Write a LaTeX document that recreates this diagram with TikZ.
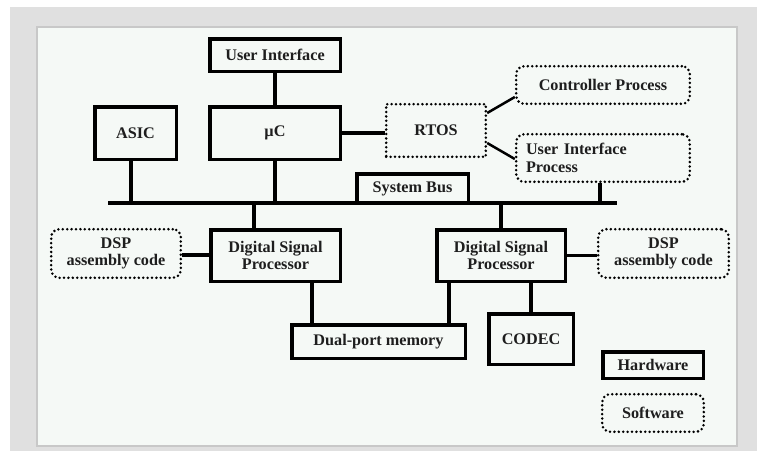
\documentclass[tikz,border=0pt]{standalone}
\usepackage{fontspec}
\setmainfont{Liberation Serif}
\definecolor{bggray}{RGB}{224,224,224}
\definecolor{panel}{RGB}{245,249,246}
\definecolor{panelline}{RGB}{200,200,200}
\definecolor{ink}{RGB}{30,30,30}
\begin{document}
\begin{tikzpicture}[x=1pt,y=-1pt,
  lbl/.style={inner sep=0pt,align=center,text=ink,font=\bfseries\fontsize{16.2}{17.5}\selectfont},
  hw/.style={lbl,draw=black,line width=3.5pt,fill=panel},
  sw/.style={lbl,draw=black,line width=2.8pt,dash pattern=on 0pt off 4.4pt,line cap=round,fill=panel},
  swr/.style={sw,rounded corners=8pt},
  conn/.style={draw=black,line width=3.5pt}]
\useasboundingbox (0,0) rectangle (757,451);
% background
\fill[white] (0,0) rectangle (757,451);
\fill[bggray] (10,7) rectangle (757,451);
\filldraw[fill=panel,draw=panelline,line width=1.5pt] (37,27) rectangle (737,446);
% hardware nodes
\node[hw,minimum width=130.5pt,minimum height=32.5pt] (ui) at (275,55) {User Interface};
\node[hw,minimum width=81.5pt,minimum height=52.5pt] (asic) at (135.5,133) {ASIC};
\node[hw,minimum width=130.5pt,minimum height=52.5pt] (uc) at (275,133) {µC};
\node[hw,minimum width=111.5pt,minimum height=29pt] (sysbus) at (412.5,188.5) {\raisebox{-6pt}{System Bus}};
\node[hw,minimum width=129.5pt,minimum height=51.5pt] (dsp1) at (275.5,255.5) {Digital Signal\\Processor};
\node[hw,minimum width=173.5pt,minimum height=33.5pt] (dp) at (378.5,341.5) {Dual-port memory};
\node[hw,minimum width=128.5pt,minimum height=51.5pt] (dsp2) at (501,255.5) {Digital Signal\\Processor};
\node[hw,minimum width=84.5pt,minimum height=50.5pt] (codec) at (531,339) {CODEC};
\node[hw,minimum width=100.5pt,minimum height=26.5pt] (hwl) at (653,365) {Hardware};
% software nodes
\node[sw,minimum width=99.6pt,minimum height=52.6pt] (rtos) at (436,130.5) {RTOS};
\node[swr,minimum width=173.6pt,minimum height=37.6pt] (ctrl) at (603,85) {Controller Process};
\node[swr,minimum width=173.6pt,minimum height=47.6pt,align=left,text width=154pt] (uip) at (603,158) {User Interface\\Process};
\node[swr,minimum width=129.6pt,minimum height=48.6pt] (dspL) at (116,253.5) {DSP\\assembly code};
\node[swr,minimum width=130.6pt,minimum height=48.6pt] (dspR) at (663.5,253.5) {DSP\\assembly code};
\node[swr,minimum width=101.6pt,minimum height=37.6pt] (swl) at (653,413) {Software};
% bus
\coordinate (busL) at (108,203);
\coordinate (busR) at (617,203);
\draw[conn,line width=4pt] (busL) -- (busR);
% connectors
\draw[conn] (ui.south) -- (uc.north);
\draw[conn] (uc.east) -- (uc.east -| rtos.west);
\draw[conn,line width=2.5pt] ([yshift=17.5pt]rtos.east) -- ([yshift=-12pt]ctrl.west);
\draw[conn,line width=2.5pt] ([yshift=-12.5pt]rtos.east) -- ([yshift=-1pt]uip.west);
\draw[conn] ([xshift=-3pt]uip.south) -- ([xshift=-3pt]uip.south |- busL);
\draw[conn] ([xshift=-4.5pt]asic.south) -- ([xshift=-4.5pt]asic.south |- busL);
\draw[conn] (uc.south) -- (uc.south |- busL);
\draw[conn] ([xshift=-21.5pt]dsp1.north) -- ([xshift=-21.5pt]dsp1.north |- busL);
\draw[conn] (dsp2.north) -- (dsp2.north |- busL);
\draw[conn] ([yshift=-1.5pt]dspL.east) -- ([yshift=-1.5pt]dspL.east -| dsp1.west);
\draw[conn] (dsp2.east) -- (dsp2.east -| dspR.west);
\draw[conn] ([xshift=36.5pt]dsp1.south) -- ([xshift=36.5pt]dsp1.south |- dp.north);
\draw[conn] ([xshift=-52pt]dsp2.south) -- ([xshift=-52pt]dsp2.south |- dp.north);
\draw[conn] (codec.north) -- (codec.north |- dsp2.south);
\end{tikzpicture}
\end{document}
